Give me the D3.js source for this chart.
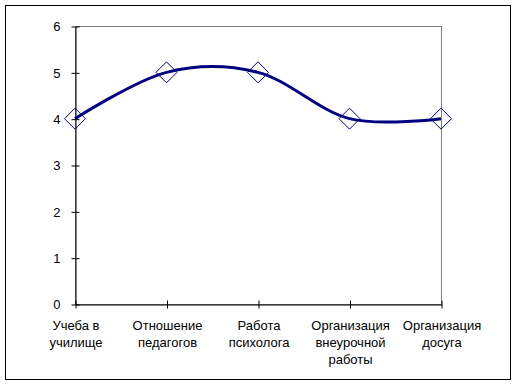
<!DOCTYPE html>
<html>
<head>
<meta charset="utf-8">
<script src="https://cdn.jsdelivr.net/npm/d3@7"></script>
<style>
body { margin: 0; background: #fff; }
text { font-family: Arial, "Liberation Sans", sans-serif; font-size: 13px; fill: #000; }
</style>
</head>
<body>
<svg id="chart" width="517" height="385"></svg>
<script>
// categories, each split in lines as in the picture
var categories = [
	["Учеба в", "училище"],
	["Отношение", "педагогов"],
	["Работа", "психолога"],
	["Организация", "внеурочной", "работы"],
	["Организация", "досуга"]
];
var values = [4, 5, 5, 4, 4];
var yTicks = [0, 1, 2, 3, 4, 5, 6];

var svg = d3.select("#chart");
var plotLeft = 75, plotRight = 441, plotTop = 26, plotBottom = 304;

// outer frame
svg.append("rect")
	.attr("x", 5.5).attr("y", 5.5)
	.attr("width", 505).attr("height", 374)
	.attr("fill", "none").attr("stroke", "#000");

var x = d3.scalePoint().domain(d3.range(categories.length)).range([plotLeft, plotRight]);
var y = d3.scaleLinear().domain([0, 6]).range([plotBottom, plotTop]);

// plot area border (gray)
svg.append("rect")
	.attr("x", plotLeft + 0.5).attr("y", plotTop + 0.5)
	.attr("width", plotRight - plotLeft).attr("height", plotBottom - plotTop)
	.attr("fill", "none").attr("stroke", "#808080");

// y axis
var yAxis = svg.append("g")
	.attr("transform", "translate(" + (plotLeft + 0.5) + ",0.5)")
	.call(d3.axisLeft(y).tickValues(yTicks).tickSizeOuter(0).tickPadding(9).tickFormat(d3.format("d")));
yAxis.attr("font-size", null).attr("font-family", null);
yAxis.select(".domain").attr("stroke", "#000");
yAxis.selectAll(".tick line").attr("x1", -4).attr("x2", 4).attr("stroke", "#000");

// x axis
var xAxis = svg.append("g")
	.attr("transform", "translate(0.5," + (plotBottom + 0.5) + ")")
	.call(d3.axisBottom(x).tickSizeOuter(0).tickFormat(""));
xAxis.attr("font-size", null).attr("font-family", null);
xAxis.select(".domain").attr("stroke", "#000");
xAxis.selectAll(".tick line").attr("y1", -4).attr("y2", 4).attr("stroke", "#000");
xAxis.selectAll(".tick").each(function(d) {
	var t = d3.select(this).select("text").text(null).attr("dy", null);
	categories[d].forEach(function(s, i) {
		t.append("tspan").attr("x", 0).attr("y", 25 + i * 17).text(s);
	});
});

// smoothed line
var line = d3.line()
	.x(function(d, i) { return x(i); })
	.y(function(d) { return y(d); })
	.curve(d3.curveCatmullRom.alpha(0));

svg.append("path")
	.datum(values)
	.attr("d", line)
	.attr("fill", "none")
	.attr("stroke", "#000080")
	.attr("stroke-width", 3);

// diamond markers
svg.selectAll(".marker")
	.data(values)
	.enter().append("path")
	.attr("class", "marker")
	.attr("transform", function(d, i) { return "translate(" + x(i) + "," + y(d) + ")"; })
	.attr("d", "M0,-10.5L10.5,0L0,10.5L-10.5,0Z")
	.attr("fill", "none")
	.attr("stroke", "#000080")
	.attr("stroke-width", 1);
</script>
</body>
</html>
